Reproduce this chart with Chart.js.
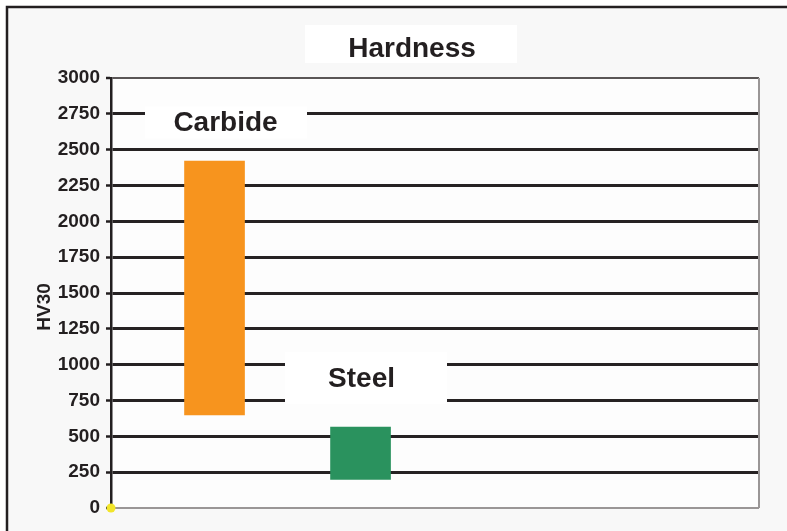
<!DOCTYPE html>
<html>
<head>
<meta charset="utf-8">
<title>Hardness</title>
<script src="https://cdn.jsdelivr.net/npm/chart.js@4.4.1/dist/chart.umd.min.js"></script>
<style>
  html, body { margin: 0; padding: 0; background: #ffffff; }
  #wrap { width: 787px; height: 531px; }
  canvas { display: block; }
</style>
</head>
<body>
<div id="wrap"><canvas id="chart" width="787" height="531"></canvas></div>
<script>
// Hardness ranges (HV30) of the two materials
const materials = ['Carbide', 'Steel'];
const hardnessLow = [650, 200];
const hardnessHigh = [2420, 565];
const barColors = ['#f7941e', '#2a925e'];
const yTicks = [0, 250, 500, 750, 1000, 1250, 1500, 1750, 2000, 2250, 2500, 2750, 3000];

const FONT = '"Liberation Sans", Arial, Helvetica, sans-serif';
const INK = '#231f20';

// Material name labels, each sitting on a white plate that interrupts the grid
const nameLabels = [
  { index: 0, value: 2690, dx: 11, plate: { left: 145, right: 307, halfH: 16 } },
  { index: 1, value: 905, dx: 1, plate: { left: 285, right: 447, halfH: 26 } }
];

const decor = {
  id: 'decor',
  beforeDraw(chart) {
    const { ctx, chartArea: a, width, height } = chart;
    ctx.save();
    ctx.fillStyle = '#ffffff';
    ctx.fillRect(0, 0, width, height);
    ctx.fillStyle = '#f8f8f8';
    ctx.fillRect(8, 8, width - 8, height - 8);
    // plot panel
    ctx.fillStyle = '#fdfdfd';
    ctx.fillRect(a.left, a.top, a.right - a.left, a.bottom - a.top);
    // title plate and title
    ctx.fillStyle = '#ffffff';
    ctx.fillRect(305, 25, 212, 38);
    ctx.fillStyle = INK;
    ctx.font = 'bold 28px ' + FONT;
    ctx.textAlign = 'center';
    ctx.textBaseline = 'alphabetic';
    ctx.fillText('Hardness', 412, 57);
    // outer frame (top and left)
    ctx.strokeStyle = INK;
    ctx.lineWidth = 2.5;
    ctx.beginPath();
    ctx.moveTo(7, height);
    ctx.lineTo(7, 7);
    ctx.lineTo(width, 7);
    ctx.stroke();
    // axis title
    ctx.translate(45, 307);
    ctx.rotate(-Math.PI / 2);
    ctx.font = 'bold 19px ' + FONT;
    ctx.textAlign = 'center';
    ctx.textBaseline = 'middle';
    ctx.fillText('HV30', 0, 0);
    ctx.restore();
  },
  afterDatasetsDraw(chart) {
    const { ctx, chartArea: a } = chart;
    const xs = chart.scales.x, ys = chart.scales.y;
    ctx.save();
    // right edge of the plot panel
    ctx.strokeStyle = '#9a9696';
    ctx.lineWidth = 2;
    ctx.beginPath();
    ctx.moveTo(a.right, a.top);
    ctx.lineTo(a.right, a.bottom);
    ctx.stroke();
    nameLabels.forEach(l => {
      const cx = xs.getPixelForValue(l.index + 1) + l.dx;
      const cy = ys.getPixelForValue(l.value);
      ctx.fillStyle = '#ffffff';
      ctx.fillRect(l.plate.left, cy - l.plate.halfH, l.plate.right - l.plate.left, l.plate.halfH * 2);
      ctx.fillStyle = INK;
      ctx.font = 'bold 28px ' + FONT;
      ctx.textAlign = 'center';
      ctx.textBaseline = 'middle';
      ctx.fillText(materials[l.index], cx, cy + 1);
    });
    ctx.restore();
  }
};

const X_MIN = 0.291, X_MAX = 4.729;

new Chart(document.getElementById('chart'), {
  type: 'bar',
  data: {
    datasets: [
      {
        label: 'Hardness range',
        data: materials.map((m, i) => ({ x: i + 1, y: [hardnessLow[i], hardnessHigh[i]] })),
        backgroundColor: barColors,
        borderWidth: 0,
        barThickness: 60,
        order: 2
      },
      {
        type: 'scatter',
        label: 'Origin',
        data: [{ x: X_MIN, y: 0 }],
        backgroundColor: '#f2e52a',
        borderWidth: 0,
        pointRadius: 4.5,
        clip: false,
        order: 1
      }
    ]
  },
  options: {
    responsive: false,
    animation: false,
    devicePixelRatio: 1,
    layout: { padding: { left: 0, top: 78, right: 28, bottom: 23 } },
    plugins: {
      legend: { display: false },
      title: { display: false },
      tooltip: { enabled: false }
    },
    scales: {
      x: {
        type: 'linear',
        display: false,
        offset: false,
        min: X_MIN,
        max: X_MAX
      },
      y: {
        min: 0,
        max: 3000,
        afterBuildTicks(scale) { scale.ticks = yTicks.map(v => ({ value: v })); },
        afterFit(scale) { scale.width = 111; },
        border: { display: true, color: INK, width: 2.5 },
        grid: {
          color: ctx => ctx.tick && ctx.tick.value === 0 ? '#9a9696' : (ctx.tick && ctx.tick.value === 3000 ? '#5a5656' : '#262223'),
          lineWidth: ctx => ctx.tick && (ctx.tick.value === 0 || ctx.tick.value === 3000) ? 2 : 3,
          tickLength: 5,
          tickColor: INK,
          tickWidth: 2.5
        },
        ticks: {
          color: INK,
          padding: 6,
          font: { family: FONT, size: 19, weight: 'bold' },
          callback: v => String(v)
        }
      }
    }
  },
  plugins: [decor]
});
</script>
</body>
</html>
